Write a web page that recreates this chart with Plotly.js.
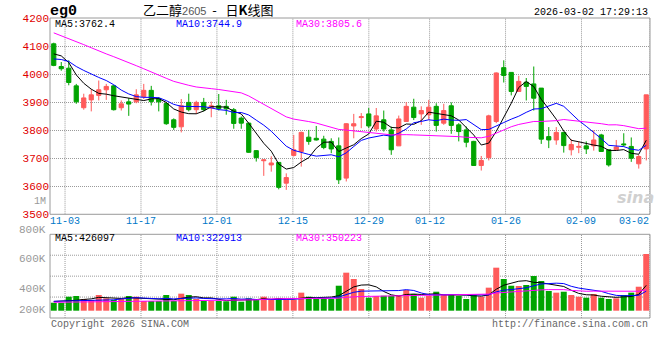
<!DOCTYPE html>
<html>
<head>
<meta charset="utf-8">
<script src="https://cdn.plot.ly/plotly-3.0.1.min.js"></script>
<style>html,body{margin:0;padding:0;background:#fff}#chart{width:660px;height:360px}</style>
</head>
<body>
<div id="chart"></div>
<script>
// ---------- data ----------
const dates = ['10-30','10-31','11-03','11-04','11-05','11-06','11-07','11-10','11-11','11-12','11-13','11-14','11-17','11-18','11-19','11-20','11-21','11-24','11-25','11-26','11-27','11-28','12-01','12-02','12-03','12-04','12-05','12-08','12-09','12-10','12-11','12-12','12-15','12-16','12-17','12-18','12-19','12-22','12-23','12-24','12-25','12-26','12-29','12-30','12-31','01-05','01-06','01-07','01-08','01-09','01-12','01-13','01-14','01-15','01-16','01-19','01-20','01-21','01-22','01-23','01-26','01-27','01-28','01-29','01-30','02-02','02-03','02-04','02-05','02-06','02-09','02-10','02-11','02-12','02-13','02-24','02-25','02-26','02-27','03-02'];

const open  = [4108,4027,4021,3958,3880,3908,3924,3944,3958,3880,3901,3901,3920,3942,3913,3895,3837,3812,3899,3873,3899,3879,3887,3885,3873,3843,3825,3727,3691,3676,3685,3611,3710,3724,3775,3771,3768,3760,3744,3629,3815,3845,3858,3804,3837,3801,3744,3831,3882,3858,3855,3885,3825,3887,3819,3801,3760,3674,3702,3831,4023,4006,3938,3971,3965,3950,3777,3765,3792,3730,3739,3744,3744,3783,3730,3730,3751,3742,3680,3733];
const high  = [4112,4043,4049,3965,3930,3946,3977,3965,3961,3906,3914,3946,3965,3958,3918,3901,3842,3911,3930,3905,3915,3902,3929,3908,3879,3849,3827,3729,3695,3707,3686,3646,3783,3795,3801,3815,3780,3771,3774,3825,3858,3861,3879,3879,3870,3813,3852,3900,3912,3885,3908,3896,3894,3899,3825,3813,3762,3708,3855,4006,4049,4006,3994,3986,4027,3950,3811,3811,3792,3768,3760,3760,3799,3787,3730,3765,3789,3774,3712,3926];
const low   = [4028,4012,3960,3894,3873,3867,3906,3908,3870,3870,3851,3896,3911,3888,3867,3819,3801,3792,3867,3858,3867,3846,3870,3855,3805,3805,3719,3688,3637,3652,3589,3587,3706,3670,3748,3763,3732,3718,3608,3617,3771,3807,3807,3795,3795,3712,3744,3831,3836,3819,3837,3795,3819,3787,3760,3739,3673,3656,3692,3825,3970,3924,3938,3906,3870,3751,3736,3748,3720,3710,3718,3715,3727,3723,3670,3730,3742,3687,3663,3692];
const close = [4031,4019,3970,3901,3915,3926,3944,3956,3873,3894,3893,3926,3942,3902,3901,3823,3810,3887,3873,3899,3873,3887,3877,3876,3824,3825,3721,3702,3694,3683,3596,3631,3730,3792,3760,3765,3738,3733,3623,3823,3823,3848,3815,3851,3804,3730,3840,3885,3845,3870,3882,3817,3870,3817,3795,3757,3674,3692,3851,4004,3995,3938,3974,3956,3914,3768,3765,3792,3745,3749,3742,3733,3765,3724,3676,3740,3748,3700,3706,3926];
const volume = [134000,134000,235000,247000,197000,180000,264000,208000,180000,197000,247000,235000,163000,163000,163000,264000,163000,286000,264000,197000,163000,163000,163000,158000,235000,151000,208000,180000,235000,180000,208000,180000,180000,303000,235000,197000,213000,197000,420000,639000,533000,365000,218000,247000,252000,252000,264000,348000,281000,218000,252000,319000,264000,281000,247000,197000,264000,235000,387000,723000,533000,420000,415000,432000,583000,499000,331000,303000,319000,264000,235000,218000,281000,218000,197000,208000,264000,303000,403000,953000];

// moving-average values before a full window exists (earlier history not shown)
const ma5Head  = [4072,4065,4041,3997];
const ma10Head = [4054,4052,4045,4027,4013,3999,3988,3977,3962];
const ma30Head = [4147,4137,4126,4116,4105,4094,4082,4072,4062,4052,4041,4030,4019,4007,3996,3985,3974,3966,3960,3954,3950,3948,3945,3941,3937,3933,3922,3907,3891];
const volMa5Head  = [155000,158000,163000,175000];
const volMa10Head = [158000,160000,162000,165000,168000,171000,174000,178000,183000];
const volMa30Head = [141000,143000,145000,147000,149000,150000,152000,154000,156000,158000,159000,161000,163000,164000,166000,167000,169000,170000,172000,174000,175000,176000,177000,178000,179000,180000,181000,182000,184000];

const priceTicks = [3500,3600,3700,3800,3900,4000,4100,4200];
const dateTicks = ['11-03','11-17','12-01','12-15','12-29','01-12','01-26','02-09','03-02'];
const volTickText = ['800K','600K','400K','200K'];
const priceLegend = ['MA5:3762.4','MA10:3744.9','MA30:3805.6'];
const volLegend = ['MA5:426097','MA10:322913','MA30:350223'];
const maColors = ['#000000','#0000ff','#ff00ff'];

// ---------- helpers ----------
const RED = '#ff5a5a', GREEN = '#00a400', GRID = '#9a9a9a', FRAME = '#9a9a9a';
const MONO = 'Liberation Mono, DejaVu Sans Mono, monospace';
const idx = dates.map((d, i) => i);
function movingAvg(vals, n, head) {
  return vals.map((v, i) => {
    if (i < n - 1) return head[i];
    let s = 0; for (let k = i - n + 1; k <= i; k++) s += vals[k];
    return s / n;
  });
}
const priceMA = [movingAvg(close,5,ma5Head), movingAvg(close,10,ma10Head), movingAvg(close,30,ma30Head)];
const volMA = [movingAvg(volume,5,volMa5Head), movingAvg(volume,10,volMa10Head), movingAvg(volume,30,volMa30Head)];
const volColors = close.map((c, i) => c >= open[i] ? RED : GREEN);
const tickIdx = dateTicks.map(d => dates.indexOf(d));

// ---------- traces ----------
const traces = [];
traces.push({type:'bar', x: idx, y: volume, xaxis:'x', yaxis:'y2', marker:{color: volColors, line:{width:0}}, width:0.8, hoverinfo:'skip'});
volMA.forEach((arr, k) => traces.push({type:'scatter', mode:'lines', x: idx, y: arr, xaxis:'x', yaxis:'y2', line:{color: maColors[k], width:1}, hoverinfo:'skip'}));
traces.push({type:'candlestick', x: idx, open, high, low, close, xaxis:'x', yaxis:'y',
  increasing:{line:{color:RED, width:1}, fillcolor:RED},
  decreasing:{line:{color:GREEN, width:1}, fillcolor:GREEN},
  whiskerwidth:0, hoverinfo:'skip'});
priceMA.forEach((arr, k) => traces.push({type:'scatter', mode:'lines', x: idx, y: arr, xaxis:'x', yaxis:'y', line:{color: maColors[k], width:1}, hoverinfo:'skip'}));
// helper trace that anchors the date-grid axis
traces.push({type:'scatter', mode:'markers', x: tickIdx, y: tickIdx.map(i => close[i]), xaxis:'x3', yaxis:'y', marker:{opacity:0}, hoverinfo:'skip'});

// ---------- shapes ----------
const shapes = [];
tickIdx.forEach(t => {
  ['y domain','y2 domain'].forEach(yr => shapes.push({type:'line', xref:'x3', yref: yr, x0:t, x1:t, y0:0, y1:1, layer:'below', line:{color:GRID, width:1, dash:'1px,1px'}}));
});
[0.25,0.5,0.75].forEach(f => shapes.push({type:'line', xref:'paper', yref:'y2 domain', x0:0, x1:1, y0:f, y1:f, layer:'below', line:{color:GRID, width:1, dash:'1px,1px'}}));
['y domain','y2 domain'].forEach(yr => shapes.push({type:'rect', xref:'paper', yref: yr, x0:0, x1:1, y0:0, y1:1, layer:'above', line:{color:FRAME, width:1}}));

// ---------- annotations ----------
const ann = [];
function A(o){ ann.push(Object.assign({showarrow:false, xref:'paper', yref:'paper', yanchor:'middle', borderpad:0}, o)); }
A({x:-0.002, y:1.0233, xanchor:'left', text:'<b>eg0</b>', font:{family:MONO, size:15, color:'#000'}});
A({x:0.1533, y:1.0267, xanchor:'left', text:'乙二醇<span style="font-family:Liberation Sans,Arial;font-size:11px;color:#555">2605</span>\u00a0\u00a0-\u00a0\u00a0\u00a0日<b>K</b>线图', font:{family:'Noto Sans CJK SC', size:13, color:'#000'}});
A({x:0.9983, y:1.0183, xanchor:'right', text:'2026-03-02 17:29:13', font:{family:MONO, size:10, color:'#000'}});
const legX = [0.0067, 0.2083, 0.4083];
priceLegend.forEach((t,k) => A({x:legX[k], y:0.98, xanchor:'left', text:t, font:{family:MONO, size:10, color:maColors[k]}}));
volLegend.forEach((t,k) => A({x:legX[k], y:0.2657, xanchor:'left', text:t, font:{family:MONO, size:10, color:maColors[k]}}));
tickIdx.forEach((t,k) => A({xref:'x3', x:t, y:0.3217, xanchor: k === tickIdx.length-1 ? 'right' : 'center', text:dateTicks[k], font:{family:MONO, size:10, color:'#0078c8'}}));
A({x:-0.005, y:0.39, xanchor:'right', text:'1M', font:{family:MONO, size:10, color:'#999'}});
const volLabelY = [0.2933, 0.1983, 0.0983, 0.0267];
volTickText.forEach((t,k) => A({x:-0.005, y:volLabelY[k], xanchor:'right', text:t, font:{family:MONO, size:11, color:'#999'}}));
A({x:0, y:-0.02, xanchor:'left', text:'Copyright 2026 SINA.COM', font:{family:MONO, size:10, color:'#666'}});
A({x:0.9983, y:-0.02, xanchor:'right', text:'http://finance.sina.com.cn', font:{family:MONO, size:10, color:'#666'}});
A({x:0.975, y:0.4033, xanchor:'center', text:'<b><i>sina</i></b>', font:{family:'DejaVu Sans', size:16, color:'#d0d0d0'}});

// ---------- layout ----------
const layout = {
  width:660, height:360, showlegend:false,
  margin:{l:50, r:10, t:18, b:42, pad:0},
  paper_bgcolor:'#fff', plot_bgcolor:'#fff',
  boxgap:0.2,
  font:{family:MONO},
  xaxis:{domain:[0,1], range:[-0.5,79.5], anchor:'y', visible:false, showgrid:false, zeroline:false, fixedrange:true, rangeslider:{visible:false}},
  xaxis3:{overlaying:'x', anchor:'y', range:[0.02,79.02], visible:false, showgrid:false, zeroline:false},
  yaxis:{domain:[0.3457,1], range:[3500,4200], anchor:'x', tickvals:priceTicks, ticks:'', showgrid:true, gridcolor:GRID, gridwidth:1, griddash:'1px,1px', zeroline:false, showline:false,
         tickfont:{family:MONO, size:11, color:'#e00000'}},
  yaxis2:{domain:[0,0.279], range:[-122700,1284000], anchor:'x', showgrid:false, showticklabels:false, zeroline:false, ticks:''},
  shapes, annotations: ann
};

Plotly.newPlot('chart', traces, layout, {displayModeBar:false, staticPlot:true});
</script>
</body>
</html>
